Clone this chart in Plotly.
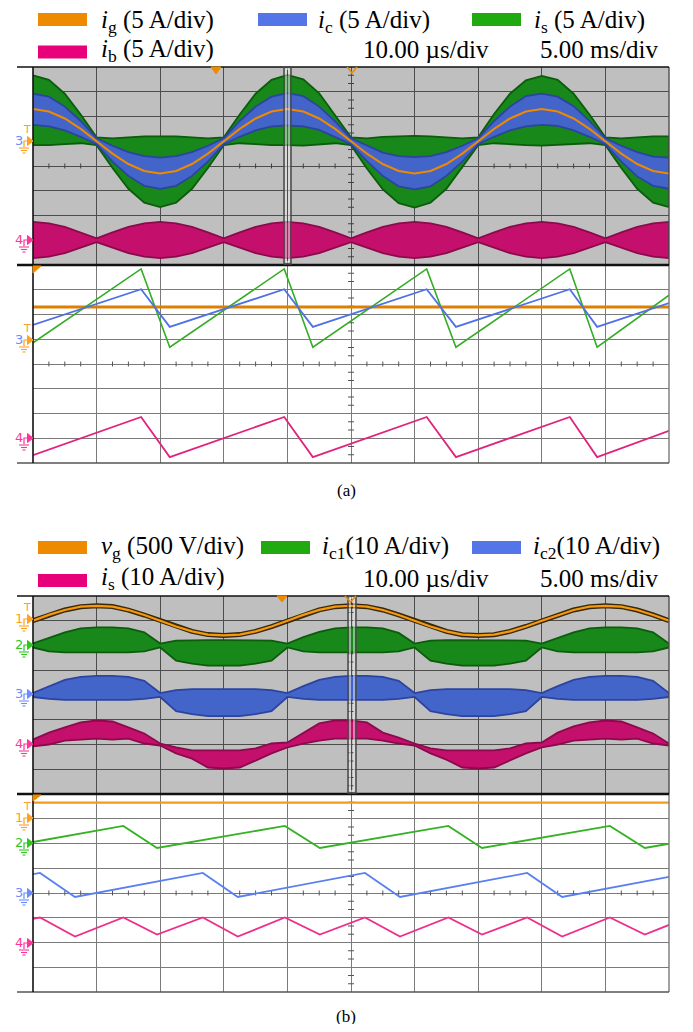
import plotly.graph_objects as go

# The page body has an 8 px margin, so the figure is drawn 8 px in from the corner
OFF = 8
W, H = 677, 1016

# ---------------- data ----------------
# overview time base: 5.00 ms/div, samples in ms
t_ms = [0.0, 1.25, 2.5, 3.75, 5.0, 6.25, 7.5, 8.75, 10.0, 11.25, 12.5, 13.75, 15.0, 16.25, 17.5, 18.75,
        20.0, 21.25, 22.5, 23.75, 25.0, 26.25, 27.5, 28.75, 30.0, 31.25, 32.5, 33.75, 35.0, 36.25, 37.5, 38.75,
        40.0, 41.25, 42.5, 43.75, 45.0, 46.25, 47.5, 48.75, 50.0]

# (a) overview, currents in A (5 A/div)
ig_a = [6.5, 6.0, 4.6, 2.5, 0.0, -2.5, -4.6, -6.0, -6.5, -6.0, -4.6, -2.5, 0.0, 2.5, 4.6, 6.0,
        6.5, 6.0, 4.6, 2.5, 0.0, -2.5, -4.6, -6.0, -6.5, -6.0, -4.6, -2.5, 0.0, 2.5, 4.6, 6.0,
        6.5, 6.0, 4.6, 2.5, 0.0, -2.5, -4.6, -6.0, -6.5]
ic_hi_a = [9.6, 9.0, 7.0, 4.1, 0.6, -0.9, -2.2, -3.0, -3.3, -3.0, -2.2, -0.9, 0.6, 4.1, 7.0, 9.0,
           9.7, 9.1, 7.0, 4.0, 0.6, -0.9, -2.3, -3.0, -3.2, -3.0, -2.2, -0.9, 0.6, 4.1, 7.0, 9.1,
           9.6, 9.0, 7.1, 4.1, 0.6, -0.9, -2.2, -3.1, -3.3]
ic_lo_a = [3.3, 3.0, 2.2, 0.9, -0.6, -4.1, -7.0, -9.0, -9.6, -9.0, -7.0, -4.1, -0.6, 0.9, 2.2, 3.0,
           3.2, 3.0, 2.3, 0.9, -0.6, -4.0, -7.0, -9.1, -9.7, -9.1, -7.0, -4.1, -0.6, 0.9, 2.2, 3.0,
           3.3, 3.1, 2.2, 0.9, -0.6, -4.1, -7.1, -9.0, -9.6]
is_hi_a = [13.3, 12.4, 9.6, 5.4, 0.8, 0.6, 0.8, 1.0, 1.0, 1.0, 0.8, 0.6, 0.8, 5.4, 9.6, 12.4,
           13.4, 12.5, 9.7, 5.3, 0.8, 0.6, 0.9, 1.0, 1.1, 1.0, 0.8, 0.6, 0.8, 5.5, 9.6, 12.3,
           13.2, 12.4, 9.6, 5.4, 0.8, 0.6, 0.8, 1.0, 1.0]
is_lo_a = [-0.8, -0.8, -0.6, -0.4, -0.8, -5.4, -9.6, -12.4, -13.3, -12.4, -9.6, -5.4, -0.8, -0.4, -0.6, -0.8,
           -0.8, -0.9, -0.6, -0.4, -0.8, -5.5, -9.7, -12.5, -13.4, -12.4, -9.6, -5.3, -0.8, -0.4, -0.6, -0.8,
           -0.9, -0.8, -0.6, -0.4, -0.8, -5.4, -9.6, -12.4, -13.3]
ib_hi_a = [3.7, 3.4, 2.7, 1.6, 0.4, 1.6, 2.7, 3.4, 3.7, 3.4, 2.7, 1.6, 0.4, 1.6, 2.7, 3.4,
           3.7, 3.4, 2.7, 1.6, 0.4, 1.6, 2.7, 3.4, 3.7, 3.4, 2.7, 1.6, 0.4, 1.6, 2.7, 3.4,
           3.7, 3.4, 2.7, 1.6, 0.4, 1.6, 2.7, 3.4, 3.7]
ib_lo_a = [-3.6, -3.3, -2.6, -1.5, -0.4, -1.5, -2.6, -3.3, -3.6, -3.3, -2.6, -1.5, -0.4, -1.5, -2.6, -3.3,
           -3.6, -3.3, -2.6, -1.5, -0.4, -1.5, -2.6, -3.3, -3.6, -3.3, -2.6, -1.5, -0.4, -1.5, -2.6, -3.3,
           -3.6, -3.3, -2.6, -1.5, -0.4, -1.5, -2.6, -3.3, -3.6]

# (a) zoom, 10.00 us/div, t in us, currents in A
t_zoom_a = [0.0, 17.0, 21.5, 39.5, 44.0, 61.9, 66.5, 84.4, 88.7, 100.0]
is_zoom_a = [-0.7, 14.2, -1.6, 14.2, -1.6, 14.2, -1.6, 14.2, -1.6, 8.9]
ic_zoom_a = [2.9, 10.1, 2.5, 10.1, 2.5, 10.1, 2.5, 10.1, 2.5, 7.3]
ib_zoom_a = [-3.4, 4.3, -3.8, 4.3, -3.8, 4.3, -3.8, 4.3, -3.8, 1.5]
t_ig_zoom_a = [0.0, 100.0]
ig_zoom_a = [6.5, 6.5]

# (b) overview: vg in V (500 V/div), currents in A (10 A/div)
vg_b = [0, 118, 218, 284, 302, 286, 216, 116, 0, -117, -215, -280, -296, -280, -215, -117,
        0, 118, 219, 285, 303, 285, 218, 117, 0, -116, -214, -281, -297, -281, -214, -116,
        0, 117, 218, 284, 302, 285, 217, 117, 0]
ic1_hi_b = [0.8, 3.2, 5.3, 6.9, 7.3, 7.3, 6.9, 5.3, 0.8, 2.0, 2.2, 2.2, 2.2, 2.2, 2.2, 2.0,
            0.8, 3.4, 5.5, 6.9, 7.3, 7.3, 6.9, 5.1, 0.8, 2.0, 2.2, 2.2, 2.2, 2.2, 2.2, 2.0,
            0.8, 3.2, 5.3, 6.9, 7.3, 7.3, 6.9, 5.3, 0.8]
ic1_lo_b = [-0.8, -2.4, -2.8, -2.8, -2.8, -2.8, -2.8, -2.4, -0.8, -6.1, -7.3, -8.1, -8.1, -8.1, -7.3, -6.1,
            -0.8, -2.4, -2.8, -2.8, -2.8, -2.8, -2.8, -2.4, -0.8, -6.1, -7.3, -8.1, -8.1, -8.1, -7.3, -6.1,
            -0.8, -2.4, -2.8, -2.8, -2.8, -2.8, -2.8, -2.4, -0.8]
ic2_hi_b = [0.8, 3.6, 6.1, 7.3, 7.7, 7.7, 7.3, 5.7, 0.8, 2.0, 2.4, 2.4, 2.4, 2.4, 2.4, 2.0,
            0.8, 3.6, 6.1, 7.3, 7.7, 7.7, 7.3, 5.7, 0.8, 2.0, 2.4, 2.4, 2.4, 2.4, 2.4, 2.0,
            0.8, 3.6, 6.1, 7.3, 7.7, 7.7, 7.3, 5.7, 0.8]
ic2_lo_b = [-0.8, -1.6, -2.0, -2.0, -2.0, -2.0, -2.0, -1.6, -0.8, -6.5, -7.7, -8.5, -8.5, -8.5, -7.7, -6.5,
            -0.8, -1.6, -2.0, -2.0, -2.0, -2.0, -2.0, -1.6, -0.8, -6.5, -7.7, -8.5, -8.5, -8.5, -7.7, -6.5,
            -0.8, -1.6, -2.0, -2.0, -2.0, -2.0, -2.0, -1.6, -0.8]
is_hi_b = [2.0, 4.8, 6.9, 8.9, 9.7, 9.3, 6.9, 4.4, 0.4, -1.2, -2.4, -2.4, -2.4, -2.4, -1.6, 0.4,
           0.8, 4.8, 8.5, 9.7, 9.7, 8.9, 4.8, 2.8, 0.4, -1.6, -2.4, -2.4, -2.4, -2.4, -1.6, 0.4,
           0.8, 4.8, 7.3, 8.9, 9.7, 9.3, 6.9, 4.4, 0.4]
is_lo_b = [-0.8, 0.0, 1.6, 2.0, 2.4, 2.0, 2.4, 0.4, -0.4, -3.6, -5.7, -9.3, -9.7, -9.3, -6.5, -3.6,
           -1.2, 0.4, 1.6, 2.4, 2.4, 2.4, 1.6, 0.4, -0.4, -3.6, -6.1, -9.3, -9.7, -9.3, -6.5, -3.6,
           -1.2, 0.0, 1.6, 2.0, 2.4, 2.0, 2.4, 0.4, -0.4]

# (b) zoom, t in us
t_vg_zoom_b = [0.0, 100.0]
vg_zoom_b = [325, 325]
t_ic1_zoom_b = [0.0, 14.2, 19.5, 39.6, 45.1, 65.3, 70.6, 90.7, 96.2, 100.0]
ic1_zoom_b = [0.6, 7.1, -1.8, 7.1, -1.8, 7.1, -1.8, 7.1, -1.8, -0.1]
t_ic2_zoom_b = [0.0, 1.1, 6.6, 26.7, 32.2, 52.2, 57.7, 77.7, 83.2, 100.0]
ic2_zoom_b = [7.6, 8.1, -1.6, 8.1, -1.6, 8.1, -1.6, 8.1, -1.6, 6.5]
t_is_zoom_b = [0.0, 1.1, 6.6, 14.2, 19.5, 26.7, 32.2, 39.6, 45.1, 52.2, 57.7, 65.3, 70.6, 77.7, 83.2, 90.7, 96.2, 100.0]
is_zoom_b = [9.6, 10.1, 2.4, 10.1, 3.2, 10.1, 2.4, 10.1, 3.2, 10.1, 2.4, 10.1, 3.2, 10.1, 2.4, 10.1, 3.2, 7.1]

legend_a = ["<i>i</i><sub>g</sub> (5 A/div)", "<i>i</i><sub>c</sub> (5 A/div)",
            "<i>i</i><sub>s</sub> (5 A/div)", "<i>i</i><sub>b</sub> (5 A/div)"]
legend_b = ["<i>v</i><sub>g</sub> (500 V/div)", "<i>i</i><sub>c1</sub>(10 A/div)",
            "<i>i</i><sub>c2</sub>(10 A/div)", "<i>i</i><sub>s</sub> (10 A/div)"]
zoom_scale = "10.00 µs/div"
main_scale = "5.00 ms/div"
captions = ["(a)", "(b)"]

# ---------------- styling ----------------
ORANGE = "#ee8a00"
BLUE_F = "#4364c8"
BLUE_E = "#2c44a0"
GREEN_F = "#18881a"
GREEN_E = "#0b5c0b"
MAG_F = "#c4106c"
MAG_E = "#8c0a4c"
GRAY_BG = "#bfbfbf"
SERIF = "Liberation Serif"


def X(px):
    return (px - OFF) / W


def Y(py):
    return 1 - (py - OFF) / H


def to_div(vals, scale, off):
    return [v / scale + off for v in vals]


fig = go.Figure()
shapes = []
annotations = []

AX = {"a_g": ("x", "y"), "a_w": ("x2", "y2"), "b_g": ("x3", "y3"), "b_w": ("x4", "y4")}


def add_ticks(key, xmax, color):
    xa, ya = AX[key]
    div = xmax / 10.0
    xs, ys = [], []
    for k in range(1, 40):
        if k % 4:
            x = k * div / 4
            xs += [x, x, None]
            ys += [-0.1, 0.1, None]
    hw = 0.047 * div
    for j in range(-11, 12):
        if j % 3:
            xs += [5 * div - hw, 5 * div + hw, None]
            ys += [j / 3, j / 3, None]
    fig.add_trace(go.Scatter(x=xs, y=ys, mode="lines", line=dict(color=color, width=1),
                             xaxis=xa, yaxis=ya, hoverinfo="skip", showlegend=False))


def band(key, xs, hi, lo, scale, off, fill, edge):
    xa, ya = AX[key]
    y = to_div(hi, scale, off) + to_div(lo, scale, off)[::-1]
    fig.add_trace(go.Scatter(x=list(xs) + list(xs)[::-1], y=y, fill="toself", fillcolor=fill,
                             mode="lines", line=dict(color=edge, width=1.8),
                             xaxis=xa, yaxis=ya, hoverinfo="skip", showlegend=False))


def line(key, xs, vals, scale, off, color, width):
    xa, ya = AX[key]
    fig.add_trace(go.Scatter(x=xs, y=to_div(vals, scale, off), mode="lines",
                             line=dict(color=color, width=width),
                             xaxis=xa, yaxis=ya, hoverinfo="skip", showlegend=False))


# ---- ticks first (behind waveforms) ----
add_ticks("a_g", 50, "#404040")
add_ticks("a_w", 100, "#555555")
add_ticks("b_g", 50, "#404040")
add_ticks("b_w", 100, "#555555")

# ---- (a) overview ----
band("a_g", t_ms, is_hi_a, is_lo_a, 5, 1, GREEN_F, GREEN_E)
band("a_g", t_ms, ic_hi_a, ic_lo_a, 5, 1, BLUE_F, BLUE_E)
line("a_g", t_ms, ig_a, 5, 1, ORANGE, 2)
band("a_g", t_ms, ib_hi_a, ib_lo_a, 5, -3, MAG_F, MAG_E)

# ---- (a) zoom ----
line("a_w", t_ig_zoom_a, ig_zoom_a, 5, 1, "#dd8000", 3)
line("a_w", t_zoom_a, is_zoom_a, 5, 1, "#34ac24", 1.6)
line("a_w", t_zoom_a, ic_zoom_a, 5, 1, "#4f70e6", 1.8)
line("a_w", t_zoom_a, ib_zoom_a, 5, -3, "#e0237c", 1.8)

# ---- (b) overview ----
line("b_g", t_ms, vg_b, 500, 3, "#3a2808", 5)
line("b_g", t_ms, vg_b, 500, 3, "#f59a10", 2.2)
band("b_g", t_ms, ic1_hi_b, ic1_lo_b, 10, 2, GREEN_F, GREEN_E)
band("b_g", t_ms, ic2_hi_b, ic2_lo_b, 10, 0, BLUE_F, BLUE_E)
band("b_g", t_ms, is_hi_b, is_lo_b, 10, -2, MAG_F, MAG_E)

# ---- (b) zoom ----
line("b_w", t_vg_zoom_b, vg_zoom_b, 500, 3, "#f29b1c", 2.2)
line("b_w", t_ic1_zoom_b, ic1_zoom_b, 10, 2, "#34b224", 1.8)
line("b_w", t_ic2_zoom_b, ic2_zoom_b, 10, 0, "#5a7ff0", 1.8)
line("b_w", t_is_zoom_b, is_zoom_b, 10, -2, "#ee2f8a", 1.8)

# ---------------- axes ----------------
XL, XR = 33, 669
panels = {
    "a_g": (67, 265, 50, 5, "#4d4d4d"),
    "a_w": (265, 463, 100, 10, "#7a7a7a"),
    "b_g": (596, 794, 50, 5, "#4d4d4d"),
    "b_w": (794, 992, 100, 10, "#7a7a7a"),
}
layout_axes = {}
for i, key in enumerate(["a_g", "a_w", "b_g", "b_w"]):
    top, bot, xmax, dt, gc = panels[key]
    sfx = "" if i == 0 else str(i + 1)
    layout_axes["xaxis" + sfx] = dict(domain=[X(XL), X(XR)], range=[0, xmax], dtick=dt, tick0=0,
                                      showgrid=True, gridcolor=gc, gridwidth=1.4, zeroline=False,
                                      showticklabels=False, ticks="", showline=False,
                                      anchor="y" + sfx, fixedrange=True)
    layout_axes["yaxis" + sfx] = dict(domain=[Y(bot), Y(top)], range=[-4, 4], dtick=1, tick0=0,
                                      showgrid=True, gridcolor=gc, gridwidth=1.4, zeroline=False,
                                      showticklabels=False, ticks="", showline=False,
                                      anchor="x" + sfx, fixedrange=True)
    if key.endswith("_g"):
        shapes.append(dict(type="rect", xref="paper", yref="paper", layer="below",
                           x0=X(XL), x1=X(XR), y0=Y(bot), y1=Y(top),
                           fillcolor=GRAY_BG, line=dict(width=0)))
    shapes.append(dict(type="line", xref="paper", yref="paper", x0=X(XR), x1=X(XR),
                       y0=Y(bot), y1=Y(top), line=dict(color=gc, width=1.4)))


def hl(x0, x1, y, color, width):
    shapes.append(dict(type="line", xref="paper", yref="paper", x0=X(x0), x1=X(x1),
                       y0=Y(y), y1=Y(y), line=dict(color=color, width=width)))


def vl(x, y0, y1, color, width):
    shapes.append(dict(type="line", xref="paper", yref="paper", x0=X(x), x1=X(x),
                       y0=Y(y0), y1=Y(y1), line=dict(color=color, width=width)))


def poly(pts, fill=None, color=None, width=1, closed=True):
    p = "M " + " L ".join(f"{X(a):.5f},{Y(b):.5f}" for a, b in pts) + (" Z" if closed else "")
    d = dict(type="path", xref="paper", yref="paper", path=p,
             line=dict(width=width, color=color or "rgba(0,0,0,0)"))
    if fill:
        d["fillcolor"] = fill
    shapes.append(d)


for top, mid, bot in [(67, 265, 463), (596, 794, 992)]:
    hl(17, XR, top, "#111111", 1.6)
    hl(17, XR, mid, "#111111", 2.6)
    hl(17, XR, bot, "#555555", 1.6)
    vl(XL, top, bot, "#111111", 1.6)

# zoom-window markers
for x0, x1, top, bot in [(284, 291, 67, 264), (348, 356, 596, 793)]:
    shapes.append(dict(type="rect", xref="paper", yref="paper", x0=X(x0), x1=X(x1),
                       y0=Y(bot), y1=Y(top), line=dict(color="#4a4a4a", width=1.5)))
    shapes.append(dict(type="rect", xref="paper", yref="paper", x0=X(x0 + 2), x1=X(x1 - 2),
                       y0=Y(bot - 2), y1=Y(top + 2), line=dict(color="#f4f4f4", width=1)))

# trigger markers
poly([(211, 67), (221, 67), (216, 74)], fill=ORANGE, color=ORANGE)
poly([(347, 67), (352, 73), (357, 67)], color=ORANGE, width=1.5, closed=False)
poly([(277, 596), (287, 596), (282, 602)], fill=ORANGE, color=ORANGE)
poly([(345, 596), (350.5, 602), (356, 596)], color=ORANGE, width=1.5, closed=False)
poly([(33, 266), (41, 266), (33, 273)], fill=ORANGE, color=ORANGE)
poly([(33, 795), (41, 795), (33, 801)], fill=ORANGE, color=ORANGE)


def chan(y, label, dcolor, mcolor, trig=False):
    annotations.append(dict(x=X(19), y=Y(y - 1), xref="paper", yref="paper", text=label,
                            showarrow=False, xanchor="center", yanchor="middle",
                            font=dict(family="DejaVu Sans", size=13, color=dcolor)))
    poly([(24, y + 6), (24, y), (28, y)], color=mcolor, width=1.2, closed=False)
    poly([(27.5, y - 4.5), (33, y), (27.5, y + 4.5)], fill=mcolor, color=mcolor)
    hl(19, 29, y + 7, mcolor, 1.1)
    hl(21, 27, y + 9.5, mcolor, 1.1)
    hl(22.5, 25.5, y + 12, mcolor, 1.1)
    if trig:
        annotations.append(dict(x=X(27), y=Y(y - 12), xref="paper", yref="paper", text="T",
                                showarrow=False, xanchor="center", yanchor="middle",
                                font=dict(family="DejaVu Sans", size=11, color="#f7a030")))


OR_M, GR_M, BL_M, MG_M = "#ffa020", "#33c41f", "#6a8cff", "#ff3399"
chan(141, "3", BL_M, OR_M, trig=True)
chan(240, "4", MG_M, MG_M)
chan(340, "3", BL_M, OR_M, trig=True)
chan(438, "4", MG_M, MG_M)
chan(619, "1", OR_M, OR_M, trig=True)
chan(645, "2", GR_M, GR_M)
chan(694, "3", BL_M, BL_M)
chan(744, "4", MG_M, MG_M)
chan(818, "1", OR_M, OR_M, trig=True)
chan(843, "2", GR_M, GR_M)
chan(893, "3", BL_M, BL_M)
chan(943, "4", MG_M, MG_M)

# ---------------- legends ----------------
SW_OR, SW_BL, SW_GR, SW_MG = "#ee8a00", "#5375e8", "#20aa10", "#e8007a"


def swatch(x0, yc, color):
    shapes.append(dict(type="rect", xref="paper", yref="paper", x0=X(x0), x1=X(x0 + 49),
                       y0=Y(yc + 6.5), y1=Y(yc - 6.5), fillcolor=color, line=dict(width=0)))


def txt(x, y, s, size=25):
    annotations.append(dict(x=X(x), y=Y(y), xref="paper", yref="paper", text=s, showarrow=False,
                            xanchor="left", yanchor="middle",
                            font=dict(family=SERIF, size=size, color="#000000")))


# (a)
swatch(38, 19.5, SW_OR); txt(99, 21.5, legend_a[0])
swatch(258, 19.5, SW_BL); txt(316, 21.5, legend_a[1])
swatch(472, 19.5, SW_GR); txt(532, 21.5, legend_a[2])
swatch(38, 52, SW_MG); txt(99, 50, legend_a[3])
txt(361, 49, zoom_scale); txt(538, 49, main_scale)
# (b)
swatch(38, 547.5, SW_OR); txt(99, 547, legend_b[0])
swatch(261, 547.5, SW_GR); txt(320, 547, legend_b[1])
swatch(472, 547.5, SW_BL); txt(531, 547, legend_b[2])
swatch(38, 580.5, SW_MG); txt(99, 578, legend_b[3])
txt(361, 578, zoom_scale); txt(538, 578, main_scale)

for cy, cap in zip([490, 1016], captions):
    annotations.append(dict(x=X(346), y=Y(cy), xref="paper", yref="paper", text=cap, showarrow=False,
                            xanchor="center", yanchor="middle",
                            font=dict(family=SERIF, size=17, color="#000000")))

fig.update_layout(width=W, height=H, margin=dict(l=0, r=0, t=0, b=0),
                  paper_bgcolor="white", plot_bgcolor="rgba(0,0,0,0)",
                  showlegend=False, shapes=shapes, annotations=annotations, **layout_axes)

fig.write_html("out.html")
